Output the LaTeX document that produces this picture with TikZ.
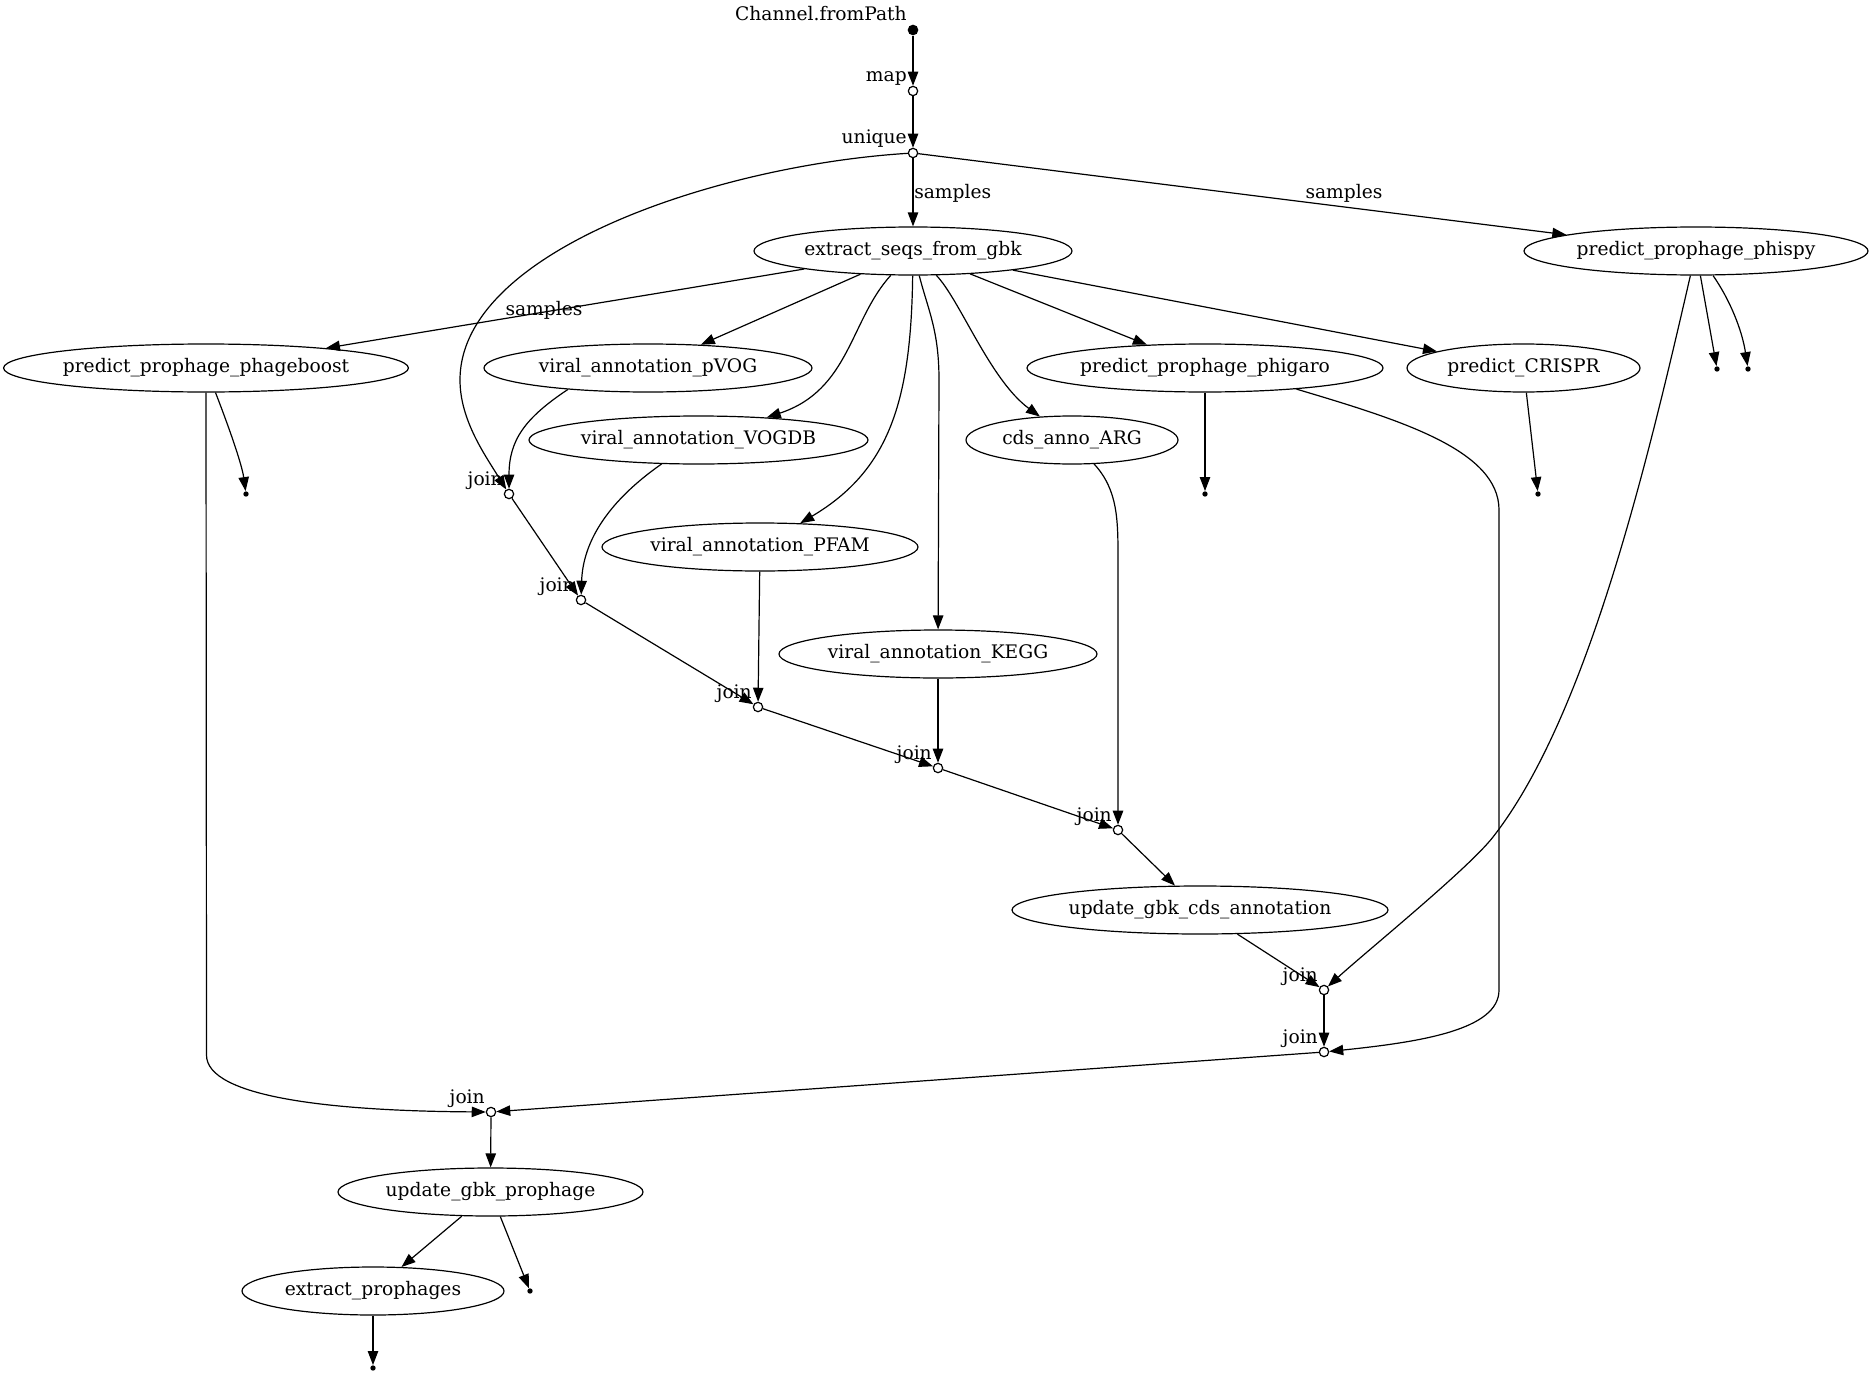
\documentclass[tikz,border=0pt]{standalone}
\usepackage{fontspec}
\setmainfont{DejaVu Serif}
\usetikzlibrary{arrows.meta,shapes.geometric,calc}
\begin{document}
\begin{tikzpicture}[x=0.75pt,y=-0.75pt,
  every node/.style={font=\fontsize{14pt}{17pt}\selectfont},
  proc/.style={draw, ellipse, line width=0.9pt, inner sep=0pt, minimum height=36pt, minimum width=#1*0.75pt},
  op/.style={draw, circle, fill=white, line width=0.9pt, inner sep=0pt, minimum size=7pt},
  srcpt/.style={circle, fill=black, inner sep=0pt, minimum size=8pt},
  sinkpt/.style={circle, fill=black, inner sep=0pt, minimum size=4pt},
  oplabel/.style={anchor=base east, inner sep=0pt},
  edgelabel/.style={anchor=base, inner sep=0pt},
  flow/.style={-{Triangle[length=10.5pt,width=7.8pt]}, line width=0.9pt},
]
\useasboundingbox (0,0) rectangle (1873,1377);

% operator / point nodes
\node[srcpt] (ch) at (913,30) {};
\node[op] (map) at (913,91) {};
\node[op] (uniq) at (913,153) {};
\node[op] (j1) at (509,494) {};
\node[op] (j2) at (581,600) {};
\node[op] (j3) at (758,707) {};
\node[op] (j4) at (938,768) {};
\node[op] (j5) at (1118,830) {};
\node[op] (j6) at (1324,990) {};
\node[op] (j7) at (1324,1052) {};
\node[op] (j8) at (491,1112) {};

\node[sinkpt] (sB) at (246,494) {};
\node[sinkpt] (sPh) at (1205,494) {};
\node[sinkpt] (sCr) at (1538,494) {};
\node[sinkpt] (sPs1) at (1717,369) {};
\node[sinkpt] (sPs2) at (1748,369) {};
\node[sinkpt] (sU) at (530,1291) {};
\node[sinkpt] (sE) at (373,1368) {};

% process nodes
\node[proc=318] (extract) at (913,251) {extract\_seqs\_from\_gbk};
\node[proc=344] (phispy) at (1696,251) {predict\_prophage\_phispy};
\node[proc=402] (boost) at (206,368) {predict\_prophage\_phageboost};
\node[proc=328] (pvog) at (648,368) {viral\_annotation\_pVOG};
\node[proc=356] (phigaro) at (1205,368) {predict\_prophage\_phigaro};
\node[proc=233] (crispr) at (1523.5,368) {predict\_CRISPR};
\node[proc=339] (vogdb) at (698.5,440) {viral\_annotation\_VOGDB};
\node[proc=212] (arg) at (1072,440) {cds\_anno\_ARG};
\node[proc=316] (pfam) at (760,547) {viral\_annotation\_PFAM};
\node[proc=318] (kegg) at (938,654) {viral\_annotation\_KEGG};
\node[proc=376] (updcds) at (1200,910) {update\_gbk\_cds\_annotation};
\node[proc=305] (updpro) at (490.5,1192) {update\_gbk\_prophage};
\node[proc=262] (extpro) at (373,1291) {extract\_prophages};

% operator labels
\node[oplabel] (l-ch) at ($(ch)+(-6,-9)$) {Channel.fromPath};
\node[oplabel] (l-map) at ($(map)+(-6,-9)$) {map};
\node[oplabel] (l-uniq) at ($(uniq)+(-6,-9)$) {unique};
\foreach \j in {j1,j2,j3,j4,j5,j6,j7,j8}{
  \node[oplabel] (l-\j) at ($(\j)+(-6,-9)$) {join};
}

% edge labels
\node[edgelabel, anchor=base west] (lab-s1) at (914,199) {samples};
\node[edgelabel] (lab-s2) at (1344,199) {samples};
\node[edgelabel] (lab-s3) at (544,315) {samples};

% edges
\draw[flow] (ch) -- (map);
\draw[flow] (map) -- (uniq);
\draw[flow] (uniq) -- (extract);
\draw[flow] (uniq) -- (phispy);
\draw[flow] (uniq) .. controls (720,165) and (460,250) .. (460,380)
                   .. controls (460,420) and (485,455) .. (j1);

\draw[flow] (extract) -- (boost);
\draw[flow] (extract) -- (pvog);
\draw[flow] (extract) .. controls (850,320) and (850,390) .. (vogdb);
\draw[flow] (extract) .. controls (911,400) and (890,470) .. (pfam);
\draw[flow] (extract) .. controls (928,310) and (939,330) .. (939,380) -- (kegg);
\draw[flow] (extract) .. controls (960,300) and (990,380) .. (arg);
\draw[flow] (extract) -- (phigaro);
\draw[flow] (extract) -- (crispr);

\draw[flow] (boost) .. controls (230,430) and (242,465) .. (sB);
\draw[flow] (boost) -- (206.5,1055) .. controls (206.5,1097) and (330,1111) .. (j8);

\draw[flow] (pvog.195) .. controls (525,418) and (509,440) .. (j1);
\draw[flow] (vogdb.213) .. controls (610,500) and (583,540) .. (j2);
\draw[flow] (j1) -- (j2);
\draw[flow] (j2) -- (j3);
\draw[flow] (pfam) -- (j3);
\draw[flow] (j3) -- (j4);
\draw[flow] (kegg) -- (j4);
\draw[flow] (j4) -- (j5);
\draw[flow] (arg) .. controls (1118,490) and (1118,520) .. (1118,560) -- (j5);
\draw[flow] (j5) -- (updcds);
\draw[flow] (updcds) -- (j6);

\draw[flow] (phispy) .. controls (1646,469) and (1586,718) .. (1493,837)
                     .. controls (1468,869) and (1368,950) .. (j6);
\draw[flow] (phispy) -- (sPs1);
\draw[flow] (phispy) .. controls (1730,300) and (1742,330) .. (sPs2);

\draw[flow] (phigaro) -- (sPh);
\draw[flow] (phigaro.-13) .. controls (1400,420) and (1499,450) .. (1499,510)
                          -- (1499,990) .. controls (1499,1030) and (1420,1042) .. (j7);
\draw[flow] (crispr) -- (sCr);

\draw[flow] (j6) -- (j7);
\draw[flow] (j7) -- (j8);
\draw[flow] (j8) -- (updpro);
\draw[flow] (updpro) -- (extpro);
\draw[flow] (updpro) -- (sU);
\draw[flow] (extpro) -- (sE);
\end{tikzpicture}
\end{document}
